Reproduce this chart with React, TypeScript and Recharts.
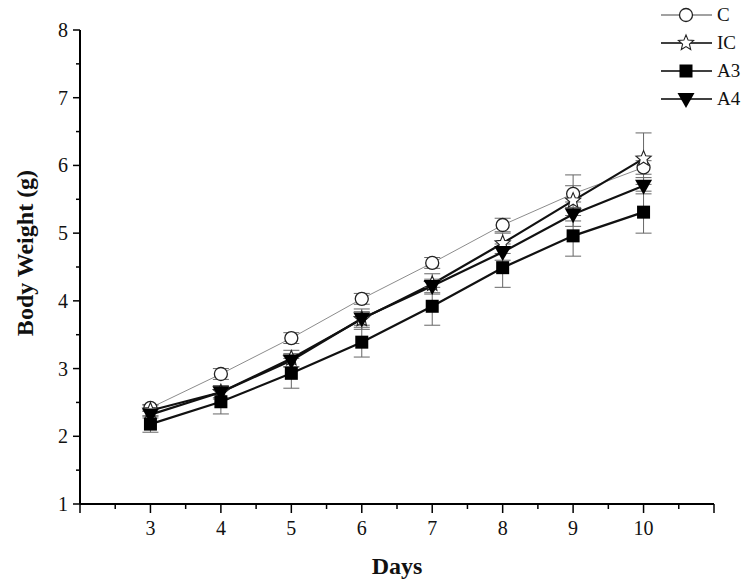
import React from 'react';
import { LineChart, Line, XAxis, YAxis, ErrorBar, Label } from 'recharts';

// days and mean body weight (g)
const days = [3, 4, 5, 6, 7, 8, 9, 10];
const cVals = [2.42, 2.92, 3.45, 4.03, 4.56, 5.12, 5.58, 5.97];
const icVals = [2.38, 2.65, 3.15, 3.73, 4.25, 4.85, 5.48, 6.1];
const a3Vals = [2.18, 2.51, 2.93, 3.39, 3.92, 4.49, 4.96, 5.31];
const a4Vals = [2.32, 2.65, 3.12, 3.74, 4.22, 4.72, 5.28, 5.7];

// error bar half-heights
const cErr = [0.05, 0.08, 0.08, 0.08, 0.08, 0.1, 0.12, 0.1];
const icErr = [0.08, 0.1, 0.12, 0.15, 0.15, 0.15, 0.38, 0.38];
const a3Err = [0.12, 0.18, 0.22, 0.22, 0.28, 0.29, 0.3, 0.31];
const a4Err = [0.05, 0.08, 0.1, 0.1, 0.1, 0.12, 0.1, 0.12];

const xTicks = [2, 2.5, 3, 3.5, 4, 4.5, 5, 5.5, 6, 6.5, 7, 7.5, 8, 8.5, 9, 9.5, 10, 10.5, 11];
const xLabels = [3, 4, 5, 6, 7, 8, 9, 10];
const yTicks = [1, 1.5, 2, 2.5, 3, 3.5, 4, 4.5, 5, 5.5, 6, 6.5, 7, 7.5, 8];
const yLabels = [1, 2, 3, 4, 5, 6, 7, 8];

const legendNames = ['C', 'IC', 'A3', 'A4'];

const data = days.map((d, i) => ({
  day: d,
  C: cVals[i],
  IC: icVals[i],
  A3: a3Vals[i],
  A4: a4Vals[i],
  cErr: cErr[i],
  icErr: icErr[i],
  a3Err: a3Err[i],
  a4Err: a4Err[i],
}));

const FONT = '"Liberation Serif", "Times New Roman", serif';

function starPoints(cx: number, cy: number, ro: number, ri: number) {
  const pts: string[] = [];
  for (let k = 0; k < 10; k++) {
    const r = k % 2 === 0 ? ro : ri;
    const a = -Math.PI / 2 + (k * Math.PI) / 5;
    pts.push(`${cx + r * Math.cos(a)},${cy + r * Math.sin(a)}`);
  }
  return pts.join(' ');
}

const CircleMark = ({ cx, cy }: any) => (
  <circle cx={cx} cy={cy} r={6.5} fill="#fff" stroke="#222" strokeWidth={1.3} />
);
const StarMark = ({ cx, cy }: any) => (
  <polygon points={starPoints(cx, cy, 8, 3.6)} fill="#fff" stroke="#222" strokeWidth={1.1} />
);
const SquareMark = ({ cx, cy }: any) => (
  <rect x={cx - 6.5} y={cy - 6.5} width={13} height={13} fill="#000" />
);
const TriMark = ({ cx, cy }: any) => (
  <polygon points={`${cx - 8.5},${cy - 6} ${cx + 8.5},${cy - 6} ${cx},${cy + 9}`} fill="#000" />
);

const marks = [CircleMark, StarMark, SquareMark, TriMark];

const dotFn = (Mark: any) => (p: any) => <Mark key={`d-${p.index}`} cx={p.cx} cy={p.cy} />;

const XTick = ({ x, y, payload }: any) => {
  const v = payload.value;
  const major = Number.isInteger(v);
  return (
    <g>
      <line x1={x} y1={y} x2={x} y2={y + (major ? 9 : 5)} stroke="#000" strokeWidth={1.5} />
      {xLabels.includes(v) && (
        <text x={x} y={y + 31} textAnchor="middle" fontSize={20} fontFamily={FONT} fill="#111">
          {v}
        </text>
      )}
    </g>
  );
};

const YTick = ({ x, y, payload }: any) => {
  const v = payload.value;
  const major = Number.isInteger(v);
  return (
    <g>
      <line x1={x} y1={y} x2={x - (major ? 7 : 4)} y2={y} stroke="#000" strokeWidth={1.5} />
      {yLabels.includes(v) && (
        <text x={x - 12} y={y + 7} textAnchor="end" fontSize={20} fontFamily={FONT} fill="#111">
          {v}
        </text>
      )}
    </g>
  );
};

function Legend() {
  return (
    <svg width={100} height={120} style={{ position: 'absolute', left: 650, top: 0 }}>
      {legendNames.map((n, i) => {
        const Mark = marks[i];
        const y = 15 + i * 28;
        return (
          <g key={n}>
            <line x1={11} y1={y} x2={62} y2={y} stroke={i === 0 ? '#444' : '#000'} strokeWidth={i === 0 ? 1.2 : 1.6} />
            <Mark cx={36} cy={y} />
            <text x={67} y={y + 6} fontSize={19} fontFamily={FONT} fill="#111">
              {n}
            </text>
          </g>
        );
      })}
    </svg>
  );
}

export default function App() {
  return (
    <div style={{ position: 'absolute', left: 0, top: 0, width: 750, height: 585, background: '#fff' }}>
      <LineChart width={750} height={585} data={data} margin={{ top: 30, right: 36, left: 0, bottom: 31 }}>
        <XAxis
          dataKey="day"
          type="number"
          domain={[2, 11]}
          ticks={xTicks}
          interval={0}
          tick={<XTick />}
          tickSize={0}
          tickMargin={0}
          tickLine={false}
          height={50}
          stroke="#000"
          strokeWidth={2}
          allowDataOverflow
        >
          <Label
            content={({ viewBox }: any) => (
              <text
                x={viewBox.x + viewBox.width / 2}
                y={viewBox.y + 70}
                textAnchor="middle"
                fontSize={24}
                fontWeight="bold"
                fontFamily={FONT}
                fill="#111"
              >
                Days
              </text>
            )}
          />
        </XAxis>
        <YAxis
          type="number"
          domain={[1, 8]}
          ticks={yTicks}
          interval={0}
          tick={<YTick />}
          tickSize={0}
          tickMargin={0}
          tickLine={false}
          width={80}
          stroke="#000"
          strokeWidth={2}
          allowDataOverflow
        >
          <Label
            content={({ viewBox }: any) => {
              const cx = viewBox.x + 25;
              const cy = viewBox.y + viewBox.height / 2 - 14;
              return (
                <text
                  x={cx}
                  y={cy}
                  transform={`rotate(-90 ${cx} ${cy})`}
                  textAnchor="middle"
                  dominantBaseline="central"
                  fontSize={24}
                  fontWeight="bold"
                  fontFamily={FONT}
                  fill="#111"
                >
                  Body Weight (g)
                </text>
              );
            }}
          />
        </YAxis>
        <Line dataKey="C" type="linear" stroke="#8c8c8c" strokeWidth={1} dot={dotFn(CircleMark)} activeDot={false} isAnimationActive={false}>
          <ErrorBar dataKey="cErr" width={8} stroke="#666" strokeWidth={1} direction="y" isAnimationActive={false} />
        </Line>
        <Line dataKey="IC" type="linear" stroke="#111" strokeWidth={2.2} dot={dotFn(StarMark)} activeDot={false} isAnimationActive={false}>
          <ErrorBar dataKey="icErr" width={8} stroke="#666" strokeWidth={1} direction="y" isAnimationActive={false} />
        </Line>
        <Line dataKey="A3" type="linear" stroke="#111" strokeWidth={2.2} dot={dotFn(SquareMark)} activeDot={false} isAnimationActive={false}>
          <ErrorBar dataKey="a3Err" width={8} stroke="#666" strokeWidth={1} direction="y" isAnimationActive={false} />
        </Line>
        <Line dataKey="A4" type="linear" stroke="#111" strokeWidth={2.2} dot={dotFn(TriMark)} activeDot={false} isAnimationActive={false}>
          <ErrorBar dataKey="a4Err" width={8} stroke="#666" strokeWidth={1} direction="y" isAnimationActive={false} />
        </Line>
      </LineChart>
      <Legend />
    </div>
  );
}
